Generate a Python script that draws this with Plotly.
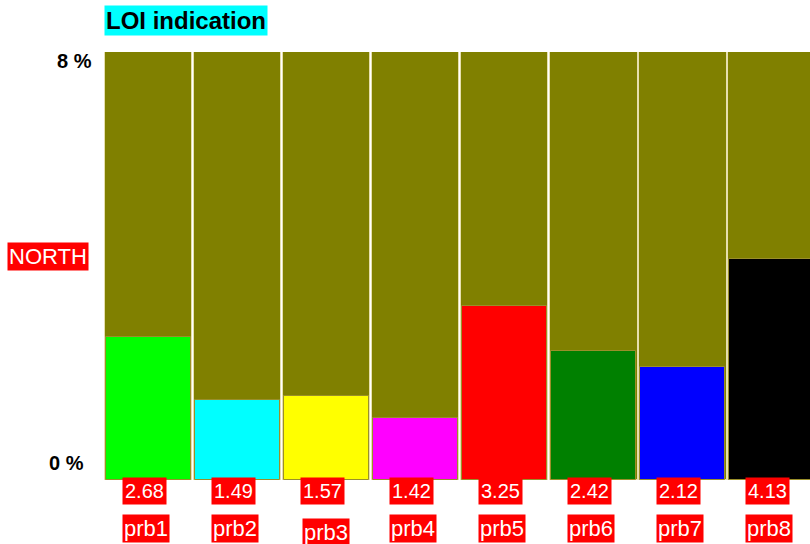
import plotly.graph_objects as go

categories = ["prb1", "prb2", "prb3", "prb4", "prb5", "prb6", "prb7", "prb8"]
label_values = [2.68, 1.49, 1.57, 1.42, 3.25, 2.42, 2.12, 4.13]
bar_heights = [2.68, 1.49, 1.57, 1.15, 3.25, 2.42, 2.12, 4.13]
bar_colors = ["#00ff00", "#00ffff", "#ffff00", "#ff00ff", "#ff0000", "#008000", "#0000ff", "#000000"]
full_scale = [8] * len(categories)
y_ticks = ["0 %", "8 %"]
region = "NORTH"
title = "LOI indication"

FONT = "Liberation Sans, Arial, sans-serif"
x = list(range(len(categories)))

fig = go.Figure()
fig.add_trace(go.Bar(
    x=x, y=full_scale, width=0.985,
    marker=dict(color="#808000", line=dict(color="#e6dfae", width=1)),
    hoverinfo="skip", showlegend=False,
))
fig.add_trace(go.Bar(
    x=x, y=bar_heights, width=0.96,
    marker=dict(color=bar_colors, line=dict(color="#9a8f2a", width=1)),
    showlegend=False,
))

ann = []
for i, (c, v) in enumerate(zip(categories, label_values)):
    ann.append(dict(x=i - 0.3, xref="x", y=0, yref="paper", yshift=-11, xanchor="left",
                    text=f"{v:.2f}", showarrow=False, yanchor="middle",
                    bgcolor="#ff0000", borderpad=2,
                    font=dict(family=FONT, size=20, color="white")))
    ann.append(dict(x=i - 0.3, xref="x", y=0, yref="paper", yshift=-48 - (4 if c == "prb3" else 0),
                    xanchor="left", xshift=(2 if c == "prb3" else 0),
                    text=c, showarrow=False, yanchor="middle",
                    bgcolor="#ff0000", borderpad=1,
                    font=dict(family=FONT, size=22, color="white")))

ann.append(dict(x=0, xref="paper", y=1, yref="paper", yshift=32, xanchor="left", yanchor="middle",
                text=f"<b>{title}</b>", showarrow=False, bgcolor="#00ffff", borderpad=1,
                font=dict(family=FONT, size=24, color="black")))
ann.append(dict(x=0, xref="paper", xshift=-15, y=0.523, yref="paper", xanchor="right", yanchor="middle",
                text=region, showarrow=False, bgcolor="#ff0000", borderpad=1,
                font=dict(family=FONT, size=22, color="white")))
ann.append(dict(x=0, xref="paper", xshift=-10, y=1, yref="paper", yshift=-9, xanchor="right", yanchor="middle",
                text=f"<b>{y_ticks[1]}</b>", showarrow=False,
                font=dict(family=FONT, size=20, color="black")))
ann.append(dict(x=0, xref="paper", xshift=-18, y=0, yref="paper", yshift=17, xanchor="right", yanchor="middle",
                text=f"<b>{y_ticks[0]}</b>", showarrow=False,
                font=dict(family=FONT, size=20, color="black")))

fig.update_layout(
    width=810, height=544,
    margin=dict(l=104, r=0, t=52, b=64),
    paper_bgcolor="white", plot_bgcolor="white",
    barmode="overlay", bargap=0,
    xaxis=dict(range=[-0.5, 7.43], showticklabels=False, showgrid=False, zeroline=False, fixedrange=True),
    yaxis=dict(range=[0, 8], showticklabels=False, showgrid=False, zeroline=False, fixedrange=True),
    annotations=ann,
)
fig.write_html("out.html", config={"displayModeBar": False},
               post_script="document.body.style.margin='0px';document.body.style.overflow='hidden';")
